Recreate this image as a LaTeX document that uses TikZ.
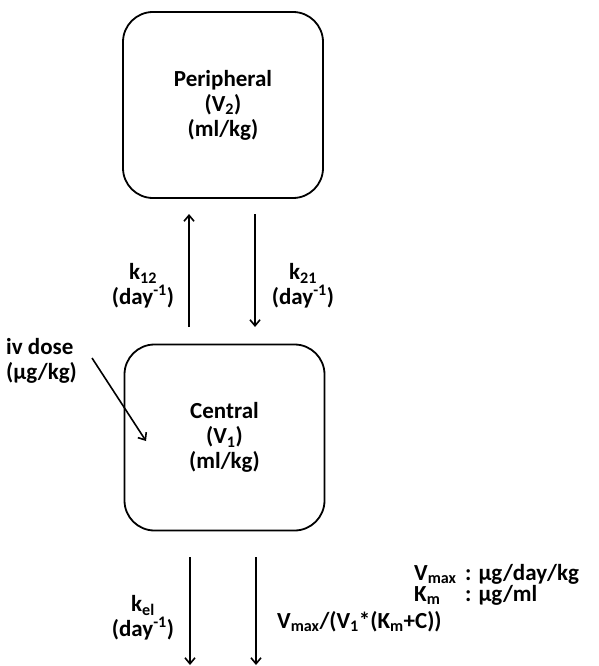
\documentclass[tikz,border=0pt]{standalone}
\usepackage{fontspec}
\setmainfont{Carlito}
\usetikzlibrary{arrows.meta}
\begin{document}
\begin{tikzpicture}[x=1pt,y=-1pt,
  txt/.style={font=\bfseries\fontsize{23}{25}\selectfont},
  comp/.style={txt,draw,line width=1.8pt,rounded corners=30pt,minimum width=200pt,minimum height=186pt,align=center},
  lbl/.style={txt,align=center,inner sep=0pt},
  arr/.style={line width=1.6pt,-{Straight Barb[length=6pt,width=10pt,line width=1.6pt]}}]
\useasboundingbox (0,0) rectangle (598,666);
\node[comp] (per) at (223,105) {Peripheral\\(V\textsubscript{2})\\(ml/kg)};
\node[comp] (cen) at (224.5,437.5) {Central\\(V\textsubscript{1})\\(ml/kg)};
\coordinate (u1) at (189,327);
\coordinate (u2) at (189,214);
\coordinate (d1) at (255,214);
\coordinate (d2) at (255,327);
\draw[arr] (u1) -- (u2);
\draw[arr] (d1) -- (d2);
\node[lbl] (k12) at (143,286) {k\textsubscript{12}\\(day\textsuperscript{-1})};
\node[lbl] (k21) at (303,286) {k\textsubscript{21}\\(day\textsuperscript{-1})};
\node[lbl,align=left,anchor=north west] (iv) at (6,338) {iv dose\\(μg/kg)};
\coordinate (ivs) at (92,358);
\coordinate (ive) at (146,441);
\draw[arr] (ivs) -- (ive);
\coordinate (e1) at (190,557);
\coordinate (e2) at (190,665);
\coordinate (f1) at (256,557);
\coordinate (f2) at (256,665);
\draw[arr] (e1) -- (e2);
\draw[arr] (f1) -- (f2);
\node[lbl] (kel) at (143,618) {k\textsubscript{el}\\(day\textsuperscript{-1})};
\node[lbl,anchor=base west] (mm) at (277,628) {V\textsubscript{max}/(V\textsubscript{1}*(K\textsubscript{m}+C))};
\node[lbl,anchor=base west] (leg1) at (414,580) {V\textsubscript{max}};
\node[lbl,anchor=base west] (leg1b) at (465,580) {:\hspace{7pt}μg/day/kg};
\node[lbl,anchor=base west] (leg2) at (414,601) {K\textsubscript{m}};
\node[lbl,anchor=base west] (leg2b) at (465,601) {:\hspace{7pt}μg/ml};
\end{tikzpicture}
\end{document}
